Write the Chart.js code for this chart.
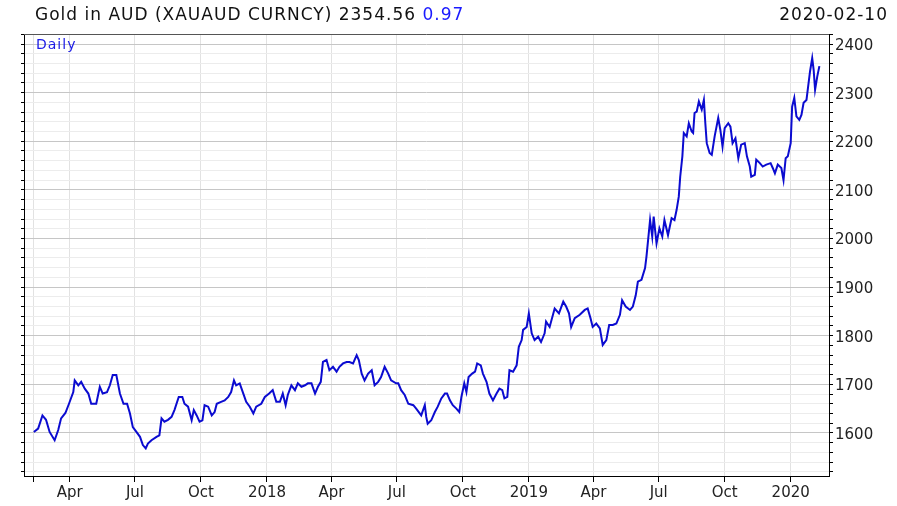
<!DOCTYPE html>
<html>
<head>
<meta charset="utf-8">
<script src="https://cdn.jsdelivr.net/npm/chart.js@4.4.1/dist/chart.umd.min.js"></script>
<style>
  html, body { margin: 0; padding: 0; background: #fff; }
  #wrap { position: relative; width: 897px; height: 506px; overflow: hidden; }
  #c { position: absolute; left: 0; top: 0; }
  .hdr { position: absolute; font-family: 'DejaVu Sans', sans-serif; font-size: 17px; letter-spacing: 1px; color: #111; white-space: nowrap; line-height: normal; }
  #title { left: 35px; top: 4px; }
  #date { right: 9px; top: 4px; }
  #daily { position: absolute; left: 36px; top: 36px; font-family: 'DejaVu Sans', sans-serif; font-size: 14px; letter-spacing: 1px; color: #1a1ae6; }
</style>
</head>
<body>
<div id="wrap">
  <canvas id="c" width="897" height="506"></canvas>
  <div id="title" class="hdr">Gold in AUD (XAUAUD CURNCY) 2354.56 <span style="color:#1a1aff">0.97</span></div>
  <div id="date" class="hdr">2020-02-10</div>
  <div id="daily">Daily</div>
</div>
<script>
// Days since 2017-01-01
const dayOffsets = [40,46,52,57,62,69,74,78,84,89,95,97,102,106,111,116,120,127,132,136,142,146,150,155,160,165,170,174,178,183,
188,192,196,199,204,211,215,218,222,227,232,236,242,247,250,255,260,263,267,271,275,278,283,288,292,295,301,306,311,315,
319,322,327,332,336,341,346,350,357,362,368,373,378,383,387,391,394,399,404,408,413,418,422,427,432,436,440,443,448,452,
457,462,466,471,476,480,485,490,493,497,501,506,511,515,520,524,529,534,538,545,548,552,557,562,569,573,580,585,587,589,
594,599,603,608,613,616,620,624,629,633,636,640,643,646,651,655,658,663,666,671,675,680,685,689,693,696,700,703,708,713,
716,720,722,727,730,734,738,743,747,752,754,759,766,772,778,782,786,789,794,801,808,812,816,819,824,829,833,838,842,847,
852,857,860,865,871,875,879,882,887,892,894,899,902,904,908,912,916,919,924,929,933,936,939,941,944,946,950,953,957,959,
961,964,967,971,974,976,978,982,985,989,994,997,1000,1003,1008,1011,1014,1018,1022,1026,1031,1034,1038,1040,1045,1047,1052,1056,1061,1067,
1070,1073,1077,1082,1085,1088,1091,1095,1097,1100,1103,1107,1110,1113,1117,1119,1122,1125,1127,1129,1132,1135];

// Gold price in AUD
const prices = [1602,1609,1636,1627,1602,1585,1606,1630,1641,1660,1684,1708,1698,1705,1691,1681,1660,1660,1695,1681,1684,1698,1719,1719,1681,1660,1660,1640,1612,1602,
1592,1575,1568,1578,1585,1592,1595,1630,1623,1627,1633,1647,1674,1674,1660,1654,1626,1647,1636,1623,1626,1657,1654,1636,1643,1660,1664,1667,1674,1684,
1708,1698,1702,1681,1664,1654,1640,1654,1660,1674,1681,1688,1664,1664,1681,1657,1678,1698,1688,1702,1695,1698,1702,1702,1681,1695,1705,1746,1750,1729,
1736,1726,1736,1743,1746,1746,1743,1760,1750,1722,1708,1722,1729,1698,1705,1715,1736,1722,1708,1702,1702,1688,1678,1660,1657,1650,1636,1657,1633,1619,
1626,1643,1654,1671,1681,1681,1667,1657,1650,1643,1674,1702,1684,1715,1722,1726,1743,1739,1722,1705,1681,1667,1681,1691,1688,1671,1674,1729,1726,1739,
1777,1791,1812,1818,1846,1805,1791,1798,1787,1805,1829,1818,1856,1846,1870,1860,1846,1818,1836,1843,1853,1856,1836,1818,1825,1815,1781,1791,1822,1822,
1825,1843,1873,1860,1853,1860,1883,1911,1915,1939,1963,2038,2004,2045,1990,2021,2004,2038,2007,2042,2038,2059,2086,2127,2169,2217,2210,2237,2220,2217,
2258,2261,2282,2265,2285,2237,2196,2176,2172,2210,2248,2223,2189,2227,2237,2230,2196,2206,2165,2193,2196,2169,2148,2127,2131,2162,2155,2148,2152,2155,
2145,2134,2152,2145,2120,2165,2169,2196,2271,2289,2251,2244,2254,2279,2285,2309,2344,2371,2347,2306,2333,2354.56];

// Axis ticks
const xTickDays = [40, 90, 181, 273, 365, 455, 546, 638, 730, 820, 911, 1003, 1095];
const xTickLabels = ['', 'Apr', 'Jul', 'Oct', '2018', 'Apr', 'Jul', 'Oct', '2019', 'Apr', 'Jul', 'Oct', '2020'];
const yTickValues = [];
for (let v = 1520; v <= 2420; v += 20) yTickValues.push(v);

const xMin = 26.3, xMax = 1148.4;
const yMin = 1511.4, yMax = 2420.6;

const font = { family: "'DejaVu Sans', sans-serif", size: 15 };

const topBorder = {
  id: 'topBorder',
  afterDraw(chart) {
    const { ctx, chartArea } = chart;
    ctx.save();
    ctx.strokeStyle = '#555';
    ctx.lineWidth = 1;
    ctx.beginPath();
    ctx.moveTo(chartArea.left, Math.round(chartArea.top) + 0.5);
    ctx.lineTo(chartArea.right, Math.round(chartArea.top) + 0.5);
    ctx.stroke();
    ctx.restore();
  }
};

new Chart(document.getElementById('c'), {
  type: 'line',
  data: {
    datasets: [{
      data: dayOffsets.map((d, i) => ({ x: d, y: prices[i] })),
      borderColor: '#0b0bd0',
      borderWidth: 2,
      pointRadius: 0,
      tension: 0,
      xAxisID: 'x',
      yAxisID: 'y'
    }]
  },
  options: {
    responsive: false,
    animation: false,
    layout: { padding: { top: 34, left: 0, right: 0, bottom: 0 } },
    plugins: { legend: { display: false }, tooltip: { enabled: false } },
    scales: {
      x: {
        type: 'linear', position: 'bottom', min: xMin, max: xMax,
        afterBuildTicks: s => { s.ticks = xTickDays.map(v => ({ value: v })); },
        afterFit: s => { s.height = 30; },
        ticks: {
          autoSkip: false, maxRotation: 0, padding: 2, color: '#222', font,
          callback: v => { const i = xTickDays.indexOf(v); return i >= 0 ? xTickLabels[i] : ''; }
        },
        grid: { color: '#e2e2e2', tickColor: '#000', tickLength: 6, lineWidth: 1 },
        border: { color: '#000' }
      },
      y: {
        type: 'linear', position: 'right', min: yMin, max: yMax,
        afterBuildTicks: s => { s.ticks = yTickValues.map(v => ({ value: v })); },
        afterFit: s => { s.width = 68; },
        ticks: {
          autoSkip: false, padding: 2, labelOffset: 2, color: '#222', font,
          callback: v => (v % 100 === 0 ? String(v) : '')
        },
        grid: {
          color: c => (c.tick && c.tick.value % 100 === 0 ? '#c6c6c6' : '#ececec'),
          tickColor: '#000', tickLength: 4
        },
        border: { color: '#000' }
      },
      yl: {
        type: 'linear', position: 'left', min: yMin, max: yMax,
        afterBuildTicks: s => { s.ticks = yTickValues.map(v => ({ value: v })); },
        afterFit: s => { s.width = 24; },
        ticks: { display: false },
        grid: { drawOnChartArea: false, tickColor: '#000', tickLength: 3 },
        border: { color: '#000' }
      }
    }
  },
  plugins: [topBorder]
});
</script>
</body>
</html>
